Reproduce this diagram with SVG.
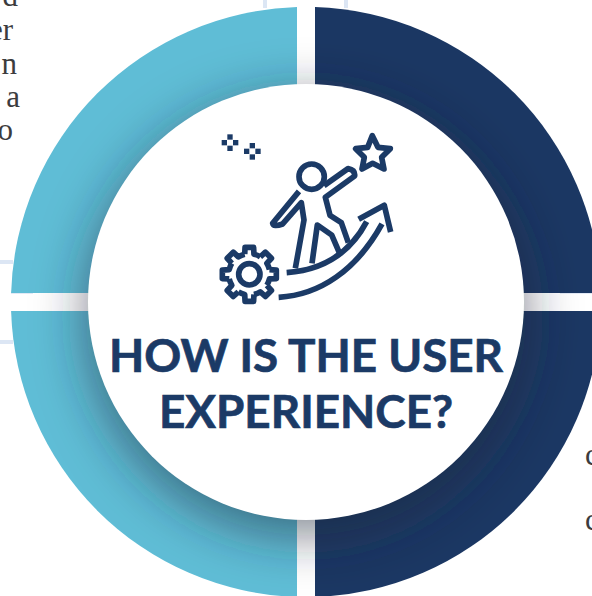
<svg xmlns="http://www.w3.org/2000/svg" xmlns:xlink="http://www.w3.org/1999/xlink" width="592" height="596" viewBox="0 0 592 596">
<style>
.teal{fill:#5fbdd6}
.navy{fill:#1b3763}
.stub{stroke:#dce6f4;stroke-width:4;fill:none}
.edge{stroke:#e2e9f5;stroke-width:1;fill:none}
.body{font-family:"Liberation Serif",serif;font-size:31px;fill:#3c3c3e}
.title{font-family:Lato,"Liberation Sans",sans-serif;font-weight:700;font-size:45.800px;fill:#1b3a66;stroke:#1b3a66;stroke-width:.7;text-anchor:middle}
.ic{fill:none;stroke:#1b3a66;stroke-width:17;stroke-linejoin:round;stroke-linecap:butt}
.sq{fill:#1b3a66}
</style>
<defs>
<clipPath id="outer"><circle cx="306" cy="302" r="295"/></clipPath>
<filter id="blur" x="-40%" y="-40%" width="180%" height="180%"><feGaussianBlur stdDeviation="26"/></filter>
<path id="tooth" d="M-13.9-60.4L-12.8-81L12.8-81L13.9-60.4A62 62 0 0 1 32.9-52.6"/>
<g id="spark"><rect class="sq" x="-8" y="-25" width="16" height="16"/><rect class="sq" x="-8" y="9" width="16" height="16"/><rect class="sq" x="-25" y="-8" width="16" height="16"/><rect class="sq" x="9" y="-8" width="16" height="16"/></g>
</defs>
<rect width="592" height="596" fill="#fff"/>
<g id="connectors">
<path class="stub" d="M265 0V8M346 0V8M0 262H13M0 342H13"/>
<path class="edge" d="M11 293.500H33M11 311.500H33M296.500 7V29M315.500 7V29M560 293.500H592M560 311.500H592M296.500 575V596M315.500 575V596"/>
</g>
<g id="side-text" class="body">
<text x="18" y="6" text-anchor="end">d</text>
<text x="13" y="40" text-anchor="end">er</text>
<text x="17" y="74" text-anchor="end">n</text>
<text x="20" y="107" text-anchor="end">a</text>
<text x="13" y="140" text-anchor="end">o</text>
<text x="585" y="465">c</text>
<text x="585" y="530">c</text>
</g>
<g id="ring">
<path class="teal" d="M297 7.100A295 295 0 0 0 11.100 293L297 293Z"/>
<path class="navy" d="M315 7.100A295 295 0 0 1 600.900 293L315 293Z"/>
<path class="teal" d="M11.100 311A295 295 0 0 0 297 596.900L297 311Z"/>
<path class="navy" d="M315 596.900A295 295 0 0 0 600.900 311L315 311Z"/>
<g clip-path="url(#outer)"><circle cx="306" cy="316" r="220" fill="#202838" fill-opacity=".55" filter="url(#blur)"/></g>
</g>
<g id="center">
<circle cx="306" cy="302" r="218" fill="#fff"/>
<g id="icon" transform="translate(200 120) scale(.3333)">
<use xlink:href="#spark" href="#spark" transform="translate(90 68)"/>
<use xlink:href="#spark" href="#spark" transform="translate(157 94)"/>
<path class="ic" d="M517 47L534 82L571 86L545 112L552 147L518 130L486 147L493 112L467 86L503 82Z"/>
<circle class="ic" cx="335" cy="170" r="38"/>
<path class="ic" d="M297 214L218 310Q220 322 248 312L304 248L312 300L286 445M372 197L444 146Q466 150 464 168L376 232L390 286L424 308L445 368M336 430L352 315L395 345L418 398"/>
<path class="ic" d="M260 458C370 450 450 400 500 305"/>
<path class="ic" d="M236 532C360 525 470 450 546 312"/>
<path class="ic" d="M476 298L553 256L572 336"/>
<g class="ic" transform="translate(148 463)">
<use xlink:href="#tooth" href="#tooth"/>
<use xlink:href="#tooth" href="#tooth" transform="rotate(45)"/>
<use xlink:href="#tooth" href="#tooth" transform="rotate(90)"/>
<use xlink:href="#tooth" href="#tooth" transform="rotate(135)"/>
<use xlink:href="#tooth" href="#tooth" transform="rotate(180)"/>
<use xlink:href="#tooth" href="#tooth" transform="rotate(225)"/>
<use xlink:href="#tooth" href="#tooth" transform="rotate(270)"/>
<use xlink:href="#tooth" href="#tooth" transform="rotate(315)"/>
<circle r="32"/>
</g>
</g>
<text class="title" x="306" y="372">HOW IS THE USER</text>
<text class="title" x="306" y="428">EXPERIENCE?</text>
</g>
</svg>
